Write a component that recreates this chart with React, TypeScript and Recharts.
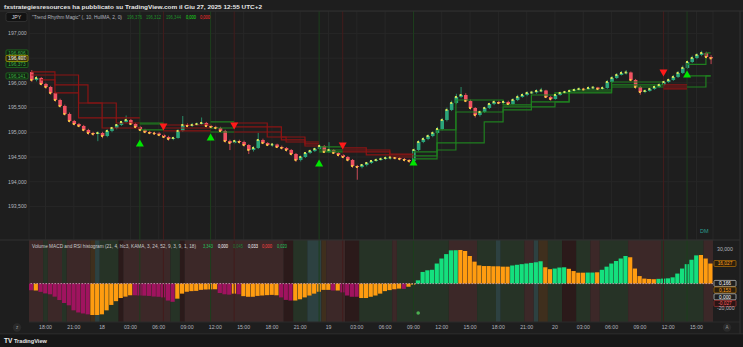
import React from 'react';
import {
  ComposedChart,
  Bar,
  Line,
  XAxis,
  YAxis,
  CartesianGrid,
  ReferenceLine,
  ReferenceArea,
  Cell,
} from 'recharts';

// GBPJPY 30m candles
const firstOpen = 196.221;
const closes = [
  196.059, 196.099, 195.978, 195.917, 195.796, 195.654, 195.533, 195.371, 195.229, 195.168,
  195.128, 195.047, 194.986, 194.966, 194.986, 194.925, 195.027, 195.087, 195.148, 195.209,
  195.249, 195.168, 195.108, 195.047, 195.006, 194.986, 194.976, 194.946, 194.905, 194.865,
  194.885, 195.027, 195.148, 195.128, 195.148, 195.168, 195.189, 195.128, 195.108, 195.087,
  195.027, 194.824, 194.784, 194.824, 194.804, 194.743, 194.642, 194.683, 194.844, 194.784,
  194.743, 194.753, 194.703, 194.683, 194.642, 194.561, 194.44, 194.5, 194.581, 194.622,
  194.662, 194.723, 194.602, 194.642, 194.581, 194.541, 194.5, 194.44, 194.318, 194.298,
  194.338, 194.379, 194.419, 194.44, 194.46, 194.48, 194.49, 194.48, 194.46, 194.44,
  194.419, 194.642, 194.804, 194.865, 194.925, 194.986, 195.067, 195.249, 195.452, 195.593,
  195.715, 195.755, 195.634, 195.492, 195.35, 195.411, 195.492, 195.573, 195.614, 195.593,
  195.614, 195.573, 195.654, 195.715, 195.755, 195.796, 195.806, 195.836, 195.846, 195.715,
  195.674, 195.755, 195.796, 195.816, 195.836, 195.856, 195.877, 195.867, 195.897, 195.907,
  195.877, 195.897, 196.018, 196.099, 196.16, 196.201, 196.211, 196.059, 195.917, 195.816,
  195.836, 195.877, 195.917, 195.958, 196.018, 196.059, 196.12, 196.201, 196.302, 196.423,
  196.504, 196.565, 196.605, 196.524, 196.497,
];
const highs = [
  196.26, 196.14, 196.12, 196.0, 195.94, 195.82, 195.68, 195.56, 195.4, 195.25,
  195.19, 195.15, 195.07, 195.01, 195.02, 195.01, 195.06, 195.11, 195.17, 195.23,
  195.34, 195.27, 195.19, 195.13, 195.07, 195.03, 195.01, 195.0, 194.97, 194.93,
  194.91, 195.06, 195.33, 195.18, 195.19, 195.2, 195.3, 195.21, 195.15, 195.13,
  195.11, 195.05, 194.85, 194.86, 194.85, 194.83, 194.76, 194.72, 194.99, 194.87,
  194.8, 194.78, 194.77, 194.73, 194.7, 194.66, 194.58, 194.53, 194.6, 194.65,
  194.69, 194.76, 194.74, 194.8, 194.66, 194.6, 194.56, 194.52, 194.46, 194.34,
  194.36, 194.4, 194.44, 194.47, 194.49, 194.51, 194.51, 194.5, 194.5, 194.48,
  194.46, 194.68, 194.84, 194.9, 194.96, 195.02, 195.11, 195.29, 195.5, 195.64,
  195.78, 195.917, 195.79, 195.66, 195.51, 195.44, 195.52, 195.6, 195.65, 195.64,
  195.65, 195.64, 195.69, 195.76, 195.79, 195.83, 195.84, 195.87, 195.9, 195.86,
  195.74, 195.78, 195.82, 195.84, 195.86, 195.89, 195.91, 195.9, 195.93, 195.93,
  195.92, 195.93, 196.06, 196.14, 196.2, 196.24, 196.26, 196.23, 196.08, 195.94,
  195.87, 195.9, 195.95, 195.99, 196.05, 196.09, 196.16, 196.24, 196.35, 196.46,
  196.55, 196.6, 196.65, 196.63, 196.56,
];
const lows = [
  196.02, 196.03, 195.95, 195.88, 195.76, 195.62, 195.5, 195.34, 195.2, 195.14,
  195.1, 195.02, 194.95, 194.93, 194.82, 194.88, 194.9, 195.0, 195.06, 195.13,
  195.19, 195.15, 195.08, 195.02, 194.98, 194.96, 194.95, 194.92, 194.88, 194.83,
  194.84, 194.87, 195.01, 195.1, 195.11, 195.13, 195.15, 195.1, 195.08, 195.06,
  195.0, 194.79, 194.64, 194.76, 194.77, 194.71, 194.56, 194.61, 194.66, 194.76,
  194.72, 194.71, 194.68, 194.65, 194.61, 194.53, 194.4, 194.41, 194.48, 194.56,
  194.6, 194.64, 194.58, 194.58, 194.56, 194.51, 194.47, 194.41, 194.28, 194.04,
  194.27, 194.31, 194.36, 194.4, 194.42, 194.44, 194.45, 194.45, 194.43, 194.41,
  194.38, 194.4, 194.62, 194.78, 194.84, 194.9, 194.96, 195.04, 195.22, 195.43,
  195.57, 195.69, 195.61, 195.46, 195.3, 195.32, 195.39, 195.47, 195.55, 195.57,
  195.57, 195.55, 195.55, 195.63, 195.7, 195.73, 195.77, 195.78, 195.81, 195.69,
  195.64, 195.66, 195.74, 195.78, 195.8, 195.82, 195.84, 195.85, 195.86, 195.87,
  195.85, 195.86, 195.88, 196.0, 196.08, 196.15, 196.17, 196.03, 195.88, 195.76,
  195.79, 195.82, 195.86, 195.9, 195.94, 196.0, 196.04, 196.1, 196.18, 196.28,
  196.4, 196.48, 196.54, 196.49, 196.38,
];

// Volume MACD histogram (same bars)
const histValues = [
  -5.3, -5.5, -6.6, -7.8, -8.5, -10.4, -13.1, -15.5, -17.3, -21.3,
  -23.0, -23.8, -24.5, -25.0, -25.0, -24.5, -21.3, -17.0, -14.0, -11.5,
  -10.4, -9.3, -9.3, -9.5, -9.6, -9.8, -10.3, -10.5, -11.0, -13.5,
  -14.5, -12.0, -8.0, -6.5, -6.0, -5.8, -5.0, -4.7, -4.6, -4.5,
  -7.5, -8.5, -8.8, -8.0, -8.5, -10.0, -10.5, -10.5, -9.8, -9.5,
  -9.2, -9.0, -9.3, -11.0, -13.0, -13.5, -13.5, -12.5, -11.0, -9.5,
  -8.0, -6.5, -5.0, -5.0, -5.5, -5.5, -7.0, -9.5, -10.5, -10.5,
  -11.5, -11.5, -10.5, -9.5, -8.0, -6.0, -5.2, -4.5, -4.0, -4.2,
  -2.5, -0.8, 2.6, 9.3, 10.6, 11.0, 16.0, 20.0, 23.5, 26.5,
  26.6, 26.8, 26.0, 22.0, 17.5, 14.5, 14.0, 14.0, 13.8, 13.8,
  13.5, 13.5, 14.5, 15.0, 15.5, 16.0, 16.5, 17.0, 17.8, 13.0,
  11.5, 12.0, 12.8, 13.0, 11.8, 10.0, 8.7, 8.7, 8.8, 8.8,
  9.0, 11.0, 13.5, 16.0, 18.0, 20.0, 22.0, 21.0, 12.0, 6.0,
  4.0, 3.7, 3.5, 3.8, 4.0, 4.2, 5.0, 8.0, 12.0, 15.5,
  19.0, 22.5, 22.8, 20.0, 16.0,
];
// m = falling below zero, o = weakening, g = rising above zero
const histKinds =
  'mommmmmmmm' + 'mmmooooooo' + 'oommmmmmmm' + 'mooooooooo' + 'mmmomooooo' +
  'ooommmoooo' + 'oooomommmm' + 'ooooooooom' + 'oogggggggg' + 'gooooooooo' +
  'oogggggggo' + 'ogggoooogg' + 'oggggggooo' + 'oooggggggg' + 'ggooo';

// background regimes of the lower pane: [from, to, kind]
const bands: [number, number, string][] = [
  [16.5, 17.5, 'r'], [18.0, 18.0, 'g'], [18.5, 19.5, 'r'], [20.0, 20.0, 'g'],
  [20.5, 22.5, 'r'], [23.0, 23.0, 'o'], [23.5, 23.5, 't'], [24.0, 25.5, 'g'],
  [26.0, 26.0, 'd'], [26.5, 31.0, 'r'], [31.5, 32.0, 'g'], [32.5, 32.5, 'd'],
  [33.0, 43.0, 'r'], [43.5, 44.0, 'd'], [44.5, 45.5, 'g'], [46.0, 47.0, 't'],
  [47.5, 47.5, 'o'], [48.0, 49.5, 'r'], [50.0, 51.0, 'd'], [51.5, 54.5, 'g'],
  [55.0, 55.0, 'r'], [55.5, 60.5, 'g'], [61.0, 63.5, 'r'], [64.0, 65.5, 'g'],
  [66.0, 66.0, 't'], [66.5, 68.5, 'g'], [69.0, 69.5, 'r'], [70.0, 70.0, 't'],
  [70.5, 71.0, 'o'], [71.5, 72.5, 'g'], [73.0, 74.0, 'd'], [74.5, 75.5, 'g'],
  [76.0, 76.5, 'r'], [77.0, 79.5, 'g'], [80.0, 83.0, 'r'], [83.5, 87.5, 'g'],
  [88.0, 88.5, 'r'],
];

// trailing levels of "Trend Rhythm Magic": [hour, price] steps, null = off
type Step = [number, number | null];
const redTrail1: Step[] = [
  [16.5, 196.221], [19.0, 196.16], [21.5, 195.958], [22.5, 195.593], [25.5, 195.29], [28.5, null],
  [30.5, 195.148], [36.0, null],
  [38.0, 195.188], [41.5, 195.108], [43.0, 194.905], [45.5, 194.804], [47.5, null],
  [49.5, 194.683], [52.0, 194.642], [54.5, 194.561], [57.5, null],
  [83.5, 195.958], [86.5, null],
];
const redTrail2: Step[] = [
  [16.5, 196.16], [19.0, 195.958], [21.5, 195.593], [24.0, 195.29], [25.5, 195.188], [28.5, null],
  [30.5, 195.087], [36.0, null],
  [38.0, 195.108], [41.5, 195.006], [43.0, 194.845], [45.5, 194.764], [47.5, null],
  [49.5, 194.642], [52.0, 194.602], [54.5, 194.541], [57.5, null],
  [83.5, 195.917], [86.5, null],
];
const redTrail3: Step[] = [
  [17.5, 196.059], [19.0, 195.796], [21.5, 195.29], [24.0, 195.087], [28.5, null],
  [30.5, 195.027], [36.0, null],
  [38.0, 195.006], [41.5, 194.905], [43.5, 194.804], [45.5, 194.723], [47.5, null],
  [49.5, 194.602], [52.0, 194.541], [54.5, 194.5], [57.5, null],
  [83.5, 195.877], [86.5, null],
];
const greenTrail1: Step[] = [
  [28.0, 195.188], [31.0, null],
  [35.5, 195.209], [38.5, null],
  [47.0, 194.703], [50.0, null],
  [57.0, 194.602], [59.5, 195.047], [61.5, 195.654], [66.5, 195.553], [69.5, 195.755],
  [72.0, 195.796], [73.5, 195.856], [78.0, 196.018], [84.0, null],
  [86.0, 196.373], [88.0, 196.606],
];
const greenTrail2: Step[] = [
  [28.0, 195.168], [31.0, null],
  [35.5, 195.087], [38.5, null],
  [47.0, 194.642], [50.0, null],
  [57.0, 194.521], [59.5, 194.784], [61.5, 195.411], [66.5, 195.513], [69.5, 195.614],
  [73.5, 195.816], [78.0, 195.958], [84.0, null],
  [86.0, 196.141],
];
const greenTrail3: Step[] = [
  [28.0, 195.047], [31.0, null],
  [35.5, 195.006], [38.5, null],
  [47.0, 194.602], [50.0, null],
  [57.0, 194.46], [59.5, 194.642], [61.5, 194.784], [64.5, 195.209], [66.5, 195.452],
  [69.5, 195.513], [72.0, 195.614], [73.5, 195.796], [78.0, 195.917], [84.0, null],
  [86.0, 195.917], [88.0, 196.141],
];

const bullSignals: [number, number][] = [
  [28.0, 194.784], [35.5, 194.905], [47.0, 194.379], [57.0, 194.399], [86.0, 196.18],
];
const bearSignals: [number, number][] = [
  [30.5, 195.108], [38.0, 195.128], [49.5, 194.723], [83.5, 196.201],
];
const histDots: [number, number][] = [[57.5, -23.4]];

const tickHours = [18, 21, 24, 27, 30, 33, 36, 39, 42, 45, 48, 51, 54, 57, 60, 63, 66, 69, 72, 75, 78, 81, 84, 87];
const tickLabels = [
  '18:00', '21:00', '18', '03:00', '06:00', '09:00', '12:00', '15:00',
  '18:00', '21:00', '19', '03:00', '06:00', '09:00', '12:00', '15:00',
  '18:00', '21:00', '20', '03:00', '06:00', '09:00', '12:00', '15:00',
];
const priceTicks = [193, 193.5, 194, 194.5, 195, 195.5, 196, 196.5, 197];
// 0 and -10 sit under the value tags, so only these show
const histTicks = [-30, -20, 10, 20, 30];
const trailTags = [196.606, 196.373, 196.141];
const histTagTop = 16.027;
const histTagsNearZero: [number, string][] = [[0.166, 'w'], [0.153, 'o'], [0.0, 'w'], [-0.027, 'r']];

const FONT = '"Liberation Sans", Arial, sans-serif';
const BG = '#1e1e1e';
const UP = '#2ba47a';
const DOWN = '#ef5262';
const RED_TRAIL = '#8a1414';
const GREEN_TRAIL = '#1f7f1f';
const BAND_FILL: Record<string, string> = { r: '#3c2828', g: '#263326', t: '#2d4141', d: '#2b1a1a', o: '#3f2f1d' };
const HIST_FILL: Record<string, string> = { m: '#a0135f', o: '#ff9c10', g: '#14e07e' };
const TAG: Record<string, { fill: string; stroke: string; text: string }> = {
  g: { fill: '#122212', stroke: '#1f7f1f', text: '#3cb043' },
  y: { fill: '#26240c', stroke: '#c9b400', text: '#f3e88a' },
  w: { fill: '#1e1e1e', stroke: '#c8c8c8', text: '#ffffff' },
  o: { fill: '#2a1f0d', stroke: '#b8730a', text: '#ff9f1a' },
  r: { fill: '#2a1414', stroke: '#a33232', text: '#ff5c5c' },
};

const fmt = (v: number) => v.toFixed(3).replace('.', ',');

const stepAt = (trail: Step[], h: number) => {
  let v: number | null = null;
  for (const [ph, pv] of trail) if (ph <= h) v = pv;
  return v;
};
const pick = (list: [number, number][], h: number) => {
  const hit = list.find((s) => s[0] === h);
  return hit ? hit[1] : null;
};

const hours = closes.map((_, i) => 16.5 + i * 0.5);
const rows = hours.map((h, i) => ({
  h,
  open: i === 0 ? firstOpen : closes[i - 1],
  close: closes[i],
  high: highs[i],
  low: lows[i],
  range: [lows[i], highs[i]],
  hist: histValues[i],
  kind: histKinds.charAt(i),
  r1: stepAt(redTrail1, h),
  r2: stepAt(redTrail2, h),
  r3: stepAt(redTrail3, h),
  g1: stepAt(greenTrail1, h),
  g2: stepAt(greenTrail2, h),
  g3: stepAt(greenTrail3, h),
  bull: pick(bullSignals, h),
  bear: pick(bearSignals, h),
  hdot: pick(histDots, h),
}));

const Candle = (props: any) => {
  const { x, y, width, height, payload } = props;
  if (!payload || y == null || height == null) return <g />;
  const { open, close, high, low } = payload;
  const top = Math.min(y, y + height);
  const k = Math.abs(height) / (high - low || 1);
  const yo = top + (high - open) * k;
  const yc = top + (high - close) * k;
  const color = close >= open ? UP : DOWN;
  const cx = x + width / 2;
  return (
    <g>
      <line x1={cx} x2={cx} y1={top} y2={top + Math.abs(height)} stroke={color} strokeWidth={0.8} />
      <rect x={x} y={Math.min(yo, yc)} width={width} height={Math.max(Math.abs(yc - yo), 0.8)} fill={color} />
    </g>
  );
};

const CloseDot = (props: any) => {
  const { cx, cy, payload, index } = props;
  if (cy == null || isNaN(cy)) return <g key={index} />;
  const up = payload.close >= payload.open;
  return <rect key={index} x={cx - 1} y={cy - 1} width={2} height={2} fill={up ? '#d8e45a' : '#f7c445'} />;
};

const BullMark = (props: any) => {
  const { cx, cy, index } = props;
  if (cy == null || isNaN(cy)) return <g key={index} />;
  return <polygon key={index} points={`${cx},${cy - 3.5} ${cx - 4},${cy + 3.5} ${cx + 4},${cy + 3.5}`} fill="#00e600" />;
};

const BearMark = (props: any) => {
  const { cx, cy, index } = props;
  if (cy == null || isNaN(cy)) return <g key={index} />;
  return <polygon key={index} points={`${cx - 4},${cy - 3.5} ${cx + 4},${cy - 3.5} ${cx},${cy + 3.5}`} fill="#ff1a1a" />;
};

const HistDot = (props: any) => {
  const { cx, cy, index } = props;
  if (cy == null || isNaN(cy)) return <g key={index} />;
  return <circle key={index} cx={cx} cy={cy} r={1.8} fill="#4caf50" />;
};

const PriceTick = (props: any) => (
  <text x={8} y={props.y} dy={1.8} fontSize={5.2} fill="#b2b5be">
    {fmt(props.payload.value)}
  </text>
);

const HistTick = (props: any) => (
  <text x={717} y={props.y} dy={1.8} fontSize={5.2} fill="#b2b5be">
    {fmt(props.payload.value)}
  </text>
);

const tag = (text: string, kind: string, side: 'left' | 'right', offset = 0) => (props: any) => {
  const vb = props.viewBox;
  if (!vb) return null;
  const c = TAG[kind];
  const cy = vb.y + offset;
  const x = side === 'left' ? vb.x - 23 : vb.x + vb.width + 1;
  return (
    <g>
      <rect x={x} y={cy - 3} width={22} height={6} rx={1} fill={c.fill} stroke={c.stroke} strokeWidth={0.7} />
      <text x={x + 11} y={cy + 1.7} textAnchor="middle" fontSize={4.8} fill={c.text}>
        {text}
      </text>
    </g>
  );
};

const stepLine = (key: string, color: string) => (
  <Line
    key={key}
    dataKey={key}
    type="stepAfter"
    stroke={color}
    strokeWidth={1.2}
    dot={false}
    activeDot={false}
    connectNulls={false}
    isAnimationActive={false}
  />
);

const signalLines = [
  ...bullSignals.map((s) => ({ h: s[0], color: '#1d3f1d' })),
  ...bearSignals.map((s) => ({ h: s[0], color: '#431c1c' })),
];

const timeLabel = (v: number) => {
  const i = tickHours.indexOf(v);
  return i >= 0 ? tickLabels[i] : '';
};

const legendText = (x: number, y: number, text: string, fill: string, w: number) => (
  <text x={x} y={y} fontSize={4.8} fill={fill} textLength={w} lengthAdjust="spacingAndGlyphs">
    {text}
  </text>
);

export default function App() {
  const lastClose = closes[closes.length - 1];
  return (
    <div
      style={{
        position: 'absolute',
        left: 0,
        top: 0,
        width: 743,
        height: 347,
        background: BG,
        overflow: 'hidden',
        fontFamily: FONT,
      }}
    >
      {/* price pane */}
      <div style={{ position: 'absolute', left: 0, top: 11 }}>
        <ComposedChart width={743} height={229} data={rows} margin={{ top: 0, right: 30, bottom: 0, left: 0 }}>
          <CartesianGrid stroke="#272727" strokeWidth={1} />
          <XAxis dataKey="h" type="category" allowDuplicatedCategory={false} ticks={tickHours} interval={0} hide />
          <YAxis
            orientation="left"
            width={29}
            domain={[192.82, 197.455]}
            allowDataOverflow
            ticks={priceTicks}
            axisLine={false}
            tickLine={false}
            tick={<PriceTick />}
          />
          {signalLines.map((s) => (
            <ReferenceLine key={`sv${s.h}`} x={s.h} stroke={s.color} strokeWidth={1} />
          ))}
          {stepLine('r1', RED_TRAIL)}
          {stepLine('r2', RED_TRAIL)}
          {stepLine('r3', RED_TRAIL)}
          {stepLine('g1', GREEN_TRAIL)}
          {stepLine('g2', GREEN_TRAIL)}
          {stepLine('g3', GREEN_TRAIL)}
          <Bar dataKey="range" barSize={3.6} shape={Candle} isAnimationActive={false} />
          <Line dataKey="close" stroke="none" strokeWidth={0} dot={CloseDot} activeDot={false} isAnimationActive={false} />
          <Line dataKey="bull" stroke="none" strokeWidth={0} dot={BullMark} activeDot={false} isAnimationActive={false} />
          <Line dataKey="bear" stroke="none" strokeWidth={0} dot={BearMark} activeDot={false} isAnimationActive={false} />
          {trailTags.map((v) => (
            <ReferenceLine key={`tt${v}`} y={v} stroke="none" label={tag(fmt(v), 'g', 'left')} />
          ))}
          <ReferenceLine y={lastClose} stroke="none" label={tag(fmt(lastClose), 'y', 'left')} />
        </ComposedChart>
      </div>

      {/* indicator pane */}
      <div style={{ position: 'absolute', left: 0, top: 240 }}>
        <ComposedChart width={743} height={94} data={rows} margin={{ top: 0, right: 0, bottom: 0, left: 29 }}>
          {bands.map(([a, b, k]) => (
            <ReferenceArea key={`b${a}`} x1={a} x2={b} fill={BAND_FILL[k]} fillOpacity={1} stroke="none" />
          ))}
          <XAxis
            dataKey="h"
            type="category"
            allowDuplicatedCategory={false}
            ticks={tickHours}
            interval={0}
            tickFormatter={timeLabel}
            axisLine={false}
            tickLine={false}
            tickSize={0}
            tickMargin={3}
            height={12}
            tick={{ fill: '#b2b5be', fontSize: 5.2 }}
          />
          <YAxis
            orientation="right"
            width={30}
            domain={[-30.6, 34.75]}
            allowDataOverflow
            ticks={histTicks}
            axisLine={false}
            tickLine={false}
            tick={<HistTick />}
          />
          {signalLines.map((s) => (
            <ReferenceLine key={`hv${s.h}`} x={s.h} stroke={s.color} strokeWidth={1} />
          ))}
          <Bar dataKey="hist" barSize={4.2} isAnimationActive={false}>
            {rows.map((r, i) => (
              <Cell key={i} fill={HIST_FILL[r.kind]} />
            ))}
          </Bar>
          <ReferenceLine y={0} stroke="#d3a7c2" strokeWidth={0.8} strokeDasharray="1.5 1.5" />
          <Line dataKey="hdot" stroke="none" strokeWidth={0} dot={HistDot} activeDot={false} isAnimationActive={false} />
          <ReferenceLine y={histTagTop} stroke="none" label={tag(fmt(histTagTop), 'o', 'right')} />
          {histTagsNearZero.map(([v, k], i) => (
            <ReferenceLine key={`hz${i}`} y={v} stroke="none" label={tag(fmt(v), k, 'right', i * 6.6)} />
          ))}
        </ComposedChart>
      </div>

      {/* static chrome: header, legends, borders */}
      <svg width={743} height={347} style={{ position: 'absolute', left: 0, top: 0, pointerEvents: 'none' }}>
        <text x={4} y={9} fontSize={6.2} fontWeight={700} fill="#e6e6e6" textLength={258} lengthAdjust="spacingAndGlyphs">
          fxstrategiesresources ha pubblicato su TradingView.com il Giu 27, 2025 12:55 UTC+2
        </text>
        <line x1={0} x2={743} y1={11} y2={11} stroke="#303030" />
        <line x1={0} x2={740} y1={240} y2={240} stroke="#303030" />
        <line x1={29} x2={740} y1={322} y2={322} stroke="#2a2a2a" />
        <line x1={0} x2={743} y1={334} y2={334} stroke="#303030" />
        <line x1={740} x2={740} y1={11} y2={334} stroke="#303030" />
        <rect x={0} y={334.5} width={743} height={13} fill="#171717" />

        <rect x={6} y={12.5} width={21} height={9} rx={2} fill="#121212" stroke="#3a3a3a" strokeWidth={0.7} />
        <text x={16.5} y={19} fontSize={5.2} textAnchor="middle" fill="#dddddd">JPY</text>

        {legendText(32, 19, '"Trend Rhythm Magic" (, 10, HullMA, 2, 0)', '#b2b5be', 90)}
        {legendText(127, 19, '196,376', '#1f8f2a', 15)}
        {legendText(146, 19, '196,312', '#1f8f2a', 15)}
        {legendText(166, 19, '196,344', '#1f8f2a', 15)}
        {legendText(186, 19, '0,000', '#19e019', 10)}
        {legendText(200, 19, '0,000', '#ff2a2a', 10)}

        {legendText(32, 248, 'Volume MACD and RSI histogram (21, 4, hlc3, KAMA, 3, 24, 52, 9, 3, 9, 1, 18)', '#c9c9c9', 164)}
        {legendText(203, 248, '3,343', '#22c55e', 10)}
        {legendText(218, 248, '0,000', '#ffffff', 10)}
        {legendText(233, 248, '0,045', '#1a7f37', 10)}
        {legendText(248, 248, '0,033', '#ffffff', 10)}
        {legendText(262, 248, '0,000', '#ff4444', 10)}
        {legendText(277, 248, '0,020', '#22c55e', 10)}

        <text x={700} y={233} fontSize={5.5} fill="#2a9d8f">DM</text>

        <circle cx={17} cy={327.5} r={4.2} fill="#2a2a2a" />
        <text x={17} y={329.3} fontSize={4.5} textAnchor="middle" fill="#9a9a9a">z</text>
        <circle cx={727} cy={327.5} r={4.2} fill="#2a2a2a" />
        <text x={727} y={329.3} fontSize={4.5} textAnchor="middle" fill="#9a9a9a">A</text>

        <text x={4} y={343} fontSize={6.5} fontWeight={700} fill="#f0f0f0">TV</text>
        <text x={14} y={343} fontSize={5.6} fontWeight={700} fill="#e6e6e6">TradingView</text>
      </svg>
    </div>
  );
}
